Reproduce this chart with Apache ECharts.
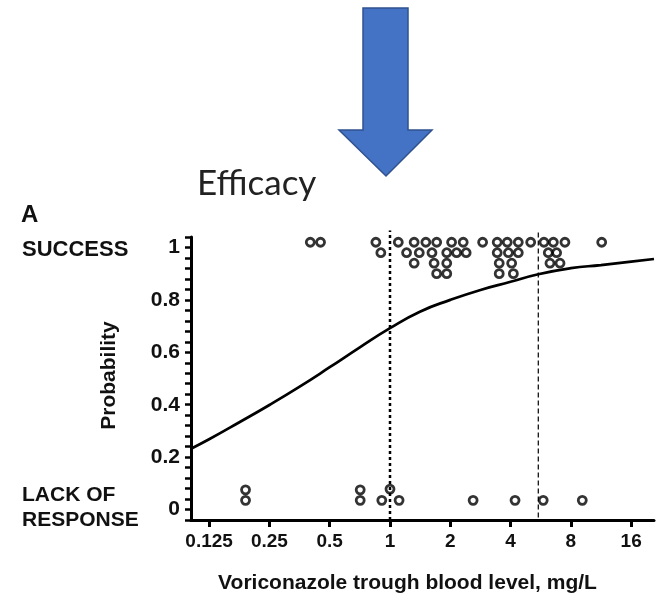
<!DOCTYPE html>
<html>
<head>
<meta charset="utf-8">
<script src="https://cdn.jsdelivr.net/npm/echarts@6/dist/echarts.min.js"></script>
<style>
  html, body { margin: 0; padding: 0; background: #fff; }
  #chart { width: 657px; height: 595px; }
</style>
</head>
<body>
<div id="chart"></div>
<script>
// Voriconazole trough level (mg/L) vs. probability of response.
const doseTicks = [0.125, 0.25, 0.5, 1, 2, 4, 8, 16];
const probTicks = [0, 0.2, 0.4, 0.6, 0.8, 1];

// Patients with a successful outcome (plotted near 1, stacked to avoid overlap)
const successLevel = [
  0.40, 0.45, 0.85, 1.10, 1.32, 1.51, 1.71, 2.03, 2.32, 2.90, 3.43, 3.85, 4.37, 5.04, 5.87, 6.54, 7.47, 11.4,
  0.90, 1.21, 1.40, 1.62, 1.92, 2.15, 2.40, 3.43, 3.90, 4.37, 6.17, 6.79,
  1.32, 1.66, 1.92, 3.51, 4.05, 6.29, 7.06,
  1.71, 1.92, 3.51, 4.13
];
const successY = [
  1.02, 1.02, 1.02, 1.02, 1.02, 1.02, 1.02, 1.02, 1.02, 1.02, 1.02, 1.02, 1.02, 1.02, 1.02, 1.02, 1.02, 1.02,
  0.98, 0.98, 0.98, 0.98, 0.98, 0.98, 0.98, 0.98, 0.98, 0.98, 0.98, 0.98,
  0.94, 0.94, 0.94, 0.94, 0.94, 0.94, 0.94,
  0.90, 0.90, 0.90, 0.90
];

// Patients with lack of response (plotted near 0)
const failureLevel = [0.19, 0.71, 1.00, 0.19, 0.71, 0.91, 1.11, 2.60, 4.21, 5.82, 9.12];
const failureY     = [0.075, 0.075, 0.078, 0.035, 0.035, 0.035, 0.035, 0.035, 0.035, 0.035, 0.035];

// Fitted logistic curve
const curveLevel = [0.1015, 0.125, 0.177, 0.25, 0.354, 0.5, 0.707, 1, 1.41, 2, 2.83, 4, 5.5, 8, 11.3, 16, 20.8];
const curveProb  = [0.232, 0.268, 0.333, 0.399, 0.469, 0.543, 0.619, 0.692, 0.755, 0.80, 0.838, 0.869, 0.898, 0.921, 0.933, 0.946, 0.956];

// Reference trough levels (dotted at 1 mg/L, dashed at 5.5 mg/L)
const refLevels = [1, 5.5];

const FONT = '"Liberation Sans", Arial, sans-serif';
const log2 = v => Math.log(v) / Math.LN2;
const Y_MIN = -0.04, Y_MAX = 1.04;
const X_MIN = log2(curveLevel[0]);
const X_MAX = log2(curveLevel[curveLevel.length - 1]);

const fmtDose = v => {
  const d = Math.pow(2, v);
  return String(Math.round(d * 1000) / 1000);
};

const chart = echarts.init(document.getElementById('chart'), null, { renderer: 'canvas' });

const circleStyle = {
  color: 'rgba(0,0,0,0)',
  borderColor: '#000',
  borderWidth: 2.8
};

const option = {
  animation: false,
  backgroundColor: '#fff',
  grid: { left: 191, right: 3, top: 237, bottom: 75, containLabel: false },
  xAxis: {
    type: 'value',
    min: X_MIN,
    max: X_MAX,
    splitLine: { show: false },
    axisLine: { show: true, onZero: false, lineStyle: { color: '#000', width: 3 } },
    axisTick: {
      show: true, inside: false, length: 7,
      lineStyle: { color: '#000', width: 3 },
      customValues: doseTicks.map(log2)
    },
    axisLabel: {
      customValues: doseTicks.map(log2),
      formatter: fmtDose,
      margin: 12,
      color: '#111',
      fontFamily: FONT,
      fontWeight: 'bold',
      fontSize: 19
    },
    name: 'Voriconazole trough blood level, mg/L',
    nameLocation: 'middle',
    nameGap: 53,
    nameTextStyle: {
      color: '#111', fontFamily: FONT, fontWeight: 'bold', fontSize: 21,
      padding: [0, 30, 0, 0]
    }
  },
  yAxis: {
    type: 'value',
    min: Y_MIN,
    max: Y_MAX,
    interval: 0.04,
    splitLine: { show: false },
    axisLine: { show: true, onZero: false, lineStyle: { color: '#000', width: 3 } },
    axisTick: {
      show: true, length: 6,
      lineStyle: { color: '#000', width: 2.5 }
    },
    axisLabel: {
      customValues: probTicks,
      margin: 11,
      color: '#111',
      fontFamily: FONT,
      fontWeight: 'bold',
      fontSize: 21
    },
    name: 'Probability',
    nameLocation: 'middle',
    nameGap: 71,
    nameRotate: 90,
    nameTextStyle: { color: '#111', fontFamily: FONT, fontWeight: 'bold', fontSize: 21, padding: [0, 0, 0, 6] }
  },
  graphic: [
    {
      type: 'polygon',
      shape: {
        points: [[363, 8], [408, 8], [408, 130], [432, 130], [386, 176], [339, 130], [363, 130]]
      },
      style: { fill: '#4472C4', stroke: '#2F528F', lineWidth: 1.5 }
    },
    {
      type: 'text', left: 197, top: 166,
      style: { text: 'Efficacy', font: '35px Lato, "Open Sans", sans-serif', fill: '#222' }
    },
    {
      type: 'text', left: 21, top: 203,
      style: { text: 'A', font: 'bold 24px ' + FONT, fill: '#111' }
    },
    {
      type: 'text', left: 22, top: 239,
      style: { text: 'SUCCESS', font: 'bold 22px ' + FONT, fill: '#111' }
    },
    {
      type: 'text', left: 22, top: 483,
      style: { text: 'LACK OF\nRESPONSE', font: 'bold 21px ' + FONT, fill: '#111', lineHeight: 25 }
    }
  ],
  series: [
    {
      type: 'line',
      name: 'ref1',
      silent: true,
      clip: false,
      symbol: 'none',
      data: [[log2(refLevels[0]), Y_MIN], [log2(refLevels[0]), Y_MAX + 0.025]],
      lineStyle: { color: '#000', width: 2.5, type: [3, 3] },
      z: 1
    },
    {
      type: 'line',
      name: 'ref2',
      silent: true,
      clip: false,
      symbol: 'none',
      data: [[log2(refLevels[1]), Y_MIN + 0.01], [log2(refLevels[1]), Y_MAX + 0.025]],
      lineStyle: { color: '#000', width: 1.2, type: [5, 3] },
      z: 1
    },
    {
      type: 'line',
      name: 'fit',
      smooth: 0.5,
      symbol: 'none',
      data: curveLevel.map((x, i) => [log2(x), curveProb[i]]),
      lineStyle: { color: '#000', width: 2.7 },
      z: 2
    },
    {
      type: 'scatter',
      name: 'success',
      symbol: 'circle',
      symbolSize: 8,
      data: successLevel.map((x, i) => [log2(x), successY[i]]),
      itemStyle: circleStyle,
      z: 3
    },
    {
      type: 'scatter',
      name: 'failure',
      symbol: 'circle',
      symbolSize: 8,
      data: failureLevel.map((x, i) => [log2(x), failureY[i]]),
      itemStyle: circleStyle,
      z: 3
    }
  ]
};

chart.setOption(option);
</script>
</body>
</html>
